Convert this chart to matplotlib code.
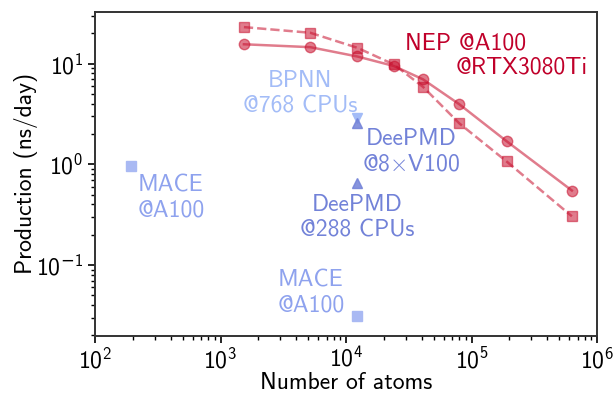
import matplotlib
matplotlib.use("Agg")
import numpy as np
import matplotlib.pyplot as plt
from matplotlib.ticker import FuncFormatter

plt.rcParams['font.family'] = ['cmss10', 'DejaVu Sans']
plt.rcParams['mathtext.fontset'] = 'custom'
plt.rcParams['mathtext.rm'] = 'cmss10'
plt.rcParams['mathtext.it'] = 'cmss10'
plt.rcParams['mathtext.bf'] = 'cmss10'
plt.rcParams['mathtext.sf'] = 'DejaVu Sans'
plt.rcParams['mathtext.fallback'] = 'cm'
plt.rcParams['axes.unicode_minus'] = True
plt.rcParams['axes.formatter.use_mathtext'] = True

# NEP data
nep_atoms = [1536, 5184, 12288, 24000, 41000, 80000, 190000, 630000]
nep_a100 = [23.1, 20.3, 14.4, 9.84, 5.9, 2.55, 1.07, 0.305]
nep_rtx = [15.6, 14.6, 11.8, 9.5, 7.0, 3.95, 1.7, 0.55]

# Other methods
bpnn_atoms = [12288]
bpnn_perf = [2.9]
deepmd_gpu_atoms = [12288]
deepmd_gpu_perf = [2.55]
deepmd_cpu_atoms = [12288]
deepmd_cpu_perf = [0.66]
mace_atoms = [195, 12288]
mace_perf = [0.97, 0.031]

nep_color = '#c8102e'
nep_text = '#c0002a'
bpnn_color = '#a3bcf7'
deepmd_color = '#7282d8'
mace_color = '#a9b9f3'
mace_text = '#8ea2ee'

fig = plt.figure(figsize=(6.13, 3.93), dpi=100)
ax = fig.add_axes([0.155, 0.146, 0.819, 0.823])

ax.plot(nep_atoms, nep_a100, ls='--', marker='s', color=nep_color, alpha=0.55,
        lw=1.8, ms=7.5)
ax.plot(nep_atoms, nep_rtx, ls='-', marker='o', color=nep_color, alpha=0.55,
        lw=1.8, ms=7.5)
ax.plot(bpnn_atoms, bpnn_perf, ls='none', marker='v', color=bpnn_color, ms=7)
ax.plot(deepmd_gpu_atoms, deepmd_gpu_perf, ls='none', marker='^', color=deepmd_color, ms=7, alpha=0.85)
ax.plot(deepmd_cpu_atoms, deepmd_cpu_perf, ls='none', marker='^', color=deepmd_color, ms=7, alpha=0.85)
ax.plot(mace_atoms, mace_perf, ls='none', marker='s', color=mace_color, ms=7)

ax.set_xscale('log')
ax.set_yscale('log')
ax.set_xlim(1e2, 1e6)
ax.set_ylim(0.0199, 32.5)


def pow_fmt(v, pos):
    e = int(round(np.log10(v)))
    if e < 0:
        return r'$10^{\mathsf{-}%d}$' % (-e)
    return r'$10^{%d}$' % e


ax.yaxis.set_major_formatter(FuncFormatter(pow_fmt))
ax.xaxis.set_major_formatter(FuncFormatter(pow_fmt))

fs = 17

def label(x, y, s, c, ha='center'):
    ax.annotate(s, xy=(x, 393 - y), xycoords='figure pixels', fontsize=fs, color=c,
                ha=ha, va='center', multialignment='center',
                linespacing=1.2)

label(405, 44, 'NEP @A100', nep_text, ha='left')
label(588, 67, '@RTX3080Ti', nep_text, ha='right')
label(300, 94, 'BPNN\n@768 CPUs', bpnn_color)
label(411, 152, 'DeePMD\n@8$\\times$V100', deepmd_color)
label(357, 218, 'DeePMD\n@288 CPUs', deepmd_color)
label(171, 198, 'MACE\n@A100', mace_text)
label(311, 293, 'MACE\n@A100', mace_text)

ax.set_xlabel('Number of atoms', fontsize=fs, labelpad=-1)
ax.set_ylabel('Production (ns/day)', fontsize=fs)
ax.yaxis.set_label_coords(-0.114, 0.5)
ax.tick_params(axis='both', which='major', labelsize=fs, length=5, width=1.2)
ax.tick_params(axis='both', which='minor', length=3, width=1.0)
for sp in ax.spines.values():
    sp.set_linewidth(1.4)
    sp.set_color('#333333')

fig.savefig('out.png', dpi=100)
